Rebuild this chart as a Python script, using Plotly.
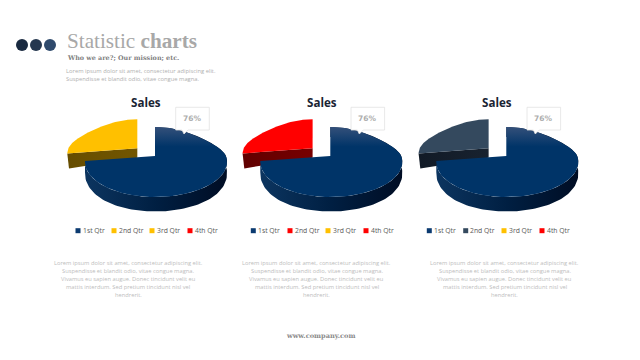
import math
import plotly.graph_objects as go

# ---- data ----
categories = ["1st Qtr", "2nd Qtr", "3rd Qtr", "4th Qtr"]
sales_left = [76, 24, 0, 0]
sales_middle = [76, 24, 0, 0]
sales_right = [76, 24, 0, 0]
callout_label = "76%"
chart_title = "Sales"
lorem_top = ["Lorem ipsum dolor sit amet, consectetur adipiscing elit.",
             "Suspendisse et blandit odio, vitae congue magna."]
lorem_body = ["Lorem ipsum dolor sit amet, consectetur adipiscing elit.",
              "Suspendisse et blandit odio, vitae congue magna.",
              "Vivamus eu sapien augue. Donec tincidunt velit eu",
              "mattis interdum. Sed pretium tincidunt nisl vel",
              "hendrerit."]

palettes = [
    {"legend": ["#0b3a70", "#ffc000", "#ffc000", "#ff0000"], "top": "#ffc000", "side": ["#664d00", "#735600"]},
    {"legend": ["#0b3a70", "#ff0000", "#ffc000", "#ff0000"], "top": "#ff0000", "side": ["#600000", "#780000"]},
    {"legend": ["#0b3a70", "#34495e", "#ffc000", "#ff0000"], "top": "#34495e", "side": ["#111a26", "#18222f"]},
]
charts = [
    {"values": sales_left, "dx": 0, "title_x": 145.7, "body_x": 128.3, "legend_x": [78, 114, 152, 190]},
    {"values": sales_middle, "dx": 175.3, "title_x": 321.7, "body_x": 316.5, "legend_x": [253.3, 290, 328, 366]},
    {"values": sales_right, "dx": 351.3, "title_x": 497, "body_x": 504.7, "legend_x": [429.3, 465.7, 504, 542]},
]

# ---- tilted-pie projection ----
K, RX, RX_LEFT, RY = 0.171, 71.0, 69.0, 34.0
ANGLE_WARP = math.radians(12)   # how the 3-D view foreshortens slice angles
BEND = 8.0


def project(theta, ox, oy):
    phi = theta + ANGLE_WARP * math.sin(theta)
    u, v = math.sin(phi), math.cos(phi)
    w = 1 + K * v
    rx = RX if u >= 0 else RX_LEFT
    return ox + rx * u / w, oy - RY * v / w + BEND * u * u * max(v, 0), v


def wedge(a0, a1, ox, oy):
    n = 120
    return [project(a0 + (a1 - a0) * i / n, ox, oy) for i in range(n + 1)]


fig = go.Figure()


def poly(xs, ys, color=None, gradient=None):
    kw = dict(fillgradient=gradient) if gradient else dict(fillcolor=color)
    fig.add_trace(go.Scatter(x=xs, y=ys, mode="lines", fill="toself", line=dict(width=0),
                             hoverinfo="skip", showlegend=False, **kw))


def side_depth(v):
    return 10 + (4.5 * (1 - (1 + v) ** 2) if v < 0 else 0)


for chart, pal in zip(charts, palettes):
    dx = chart["dx"]
    total = sum(chart["values"])
    end = 2 * math.pi * chart["values"][0] / total

    # small exploded slice
    ox, oy = 137.3 + dx, 148.3
    pts = wedge(end, 2 * math.pi, ox, oy)
    lx, ly, _ = pts[0]
    poly([ox, lx, lx + 1.7, ox], [oy, ly, ly + 15, oy + 9.4],
         gradient=dict(type="horizontal", colorscale=[[0, pal["side"][0]], [1, pal["side"][1]]]))
    poly([ox] + [p[0] for p in pts], [oy] + [p[1] for p in pts], color=pal["top"])

    # large slice
    ox, oy = 155 + dx, 156
    pts = wedge(0, end, ox, oy)
    poly([p[0] for p in pts] + [p[0] for p in reversed(pts)],
         [p[1] for p in pts] + [p[1] + side_depth(p[2]) for p in reversed(pts)],
         gradient=dict(type="horizontal", colorscale=[[0, "#0c3560"], [0.5, "#001f42"], [1, "#000d24"]]))
    poly([ox] + [p[0] for p in pts], [oy] + [p[1] for p in pts],
         gradient=dict(type="vertical", colorscale=[[0, "#003468"], [0.72, "#003468"], [1, "#34507a"]]))

    # legend
    fig.add_trace(go.Scatter(
        x=chart["legend_x"], y=[230.7] * 4, mode="markers",
        marker=dict(symbol="square", size=5, color=pal["legend"], line=dict(width=0)),
        hoverinfo="skip", showlegend=False))
    for lx, name in zip(chart["legend_x"], categories):
        fig.add_annotation(x=lx + 2.7, y=230.7, text=name, showarrow=False, xanchor="left", yanchor="middle",
                           font=dict(family="Open Sans", size=6.8, color="#595959"))

    # callout
    fig.add_shape(type="path",
                  path=f"M {175.7+dx} 107.3 L {209.3+dx} 107.3 L {209.3+dx} 130 L {188+dx} 130 "
                       f"L {184+dx} 134 L {182+dx} 130 L {175.7+dx} 130 Z",
                  fillcolor="white", line=dict(color="#e2e2e2", width=0.8), layer="above")
    fig.add_annotation(x=192 + dx, y=118.5, text=f"<b>{callout_label}</b>", showarrow=False,
                       font=dict(family="DejaVu Sans", size=7.5, color="#adadad"))

    # title
    fig.add_annotation(x=chart["title_x"], y=102, text=f"<b>{chart_title}</b>", showarrow=False,
                       font=dict(family="Open Sans", size=11.6, color="#1a2433"))

    # description
    for i, line in enumerate(lorem_body):
        fig.add_annotation(x=chart["body_x"], y=263.3 + 8 * i, text=line, showarrow=False,
                           font=dict(family="Open Sans", size=5.75, color="#bdbdbd"))

# header dots
for cx, col in zip([22, 36, 50], ["#1a2a40", "#25374f", "#2f4a6c"]):
    fig.add_shape(type="circle", x0=cx - 6, x1=cx + 6, y0=39, y1=51, fillcolor=col, line=dict(width=0))

fig.add_annotation(x=64.5, y=41, text="Statistic <b>charts</b>", showarrow=False, xanchor="left",
                   font=dict(family="Liberation Serif", size=21.2, color="#a8a8a8"))
fig.add_annotation(x=64.5, y=58, text="<b>Who we are?; Our mission; etc.</b>", showarrow=False, xanchor="left",
                   font=dict(family="DejaVu Serif", size=6.4, color="#808080"))
for i, line in enumerate(lorem_top):
    fig.add_annotation(x=64, y=71 + 7.6 * i, text=line, showarrow=False, xanchor="left",
                       font=dict(family="Open Sans", size=5.8, color="#b0b0b0"))
fig.add_annotation(x=321, y=336, text="<b>www.company.com</b>", showarrow=False,
                   font=dict(family="DejaVu Serif", size=6.6, color="#8a8a8a"))

fig.update_xaxes(range=[0, 640], visible=False, fixedrange=True)
fig.update_yaxes(range=[360, 0], visible=False, fixedrange=True)
fig.update_layout(width=640, height=360, margin=dict(l=0, r=0, t=0, b=0),
                  paper_bgcolor="white", plot_bgcolor="white", showlegend=False)
fig.write_html("out.html", config={"displayModeBar": False},
               post_script="document.body.style.margin='0';document.body.style.overflow='hidden';")
